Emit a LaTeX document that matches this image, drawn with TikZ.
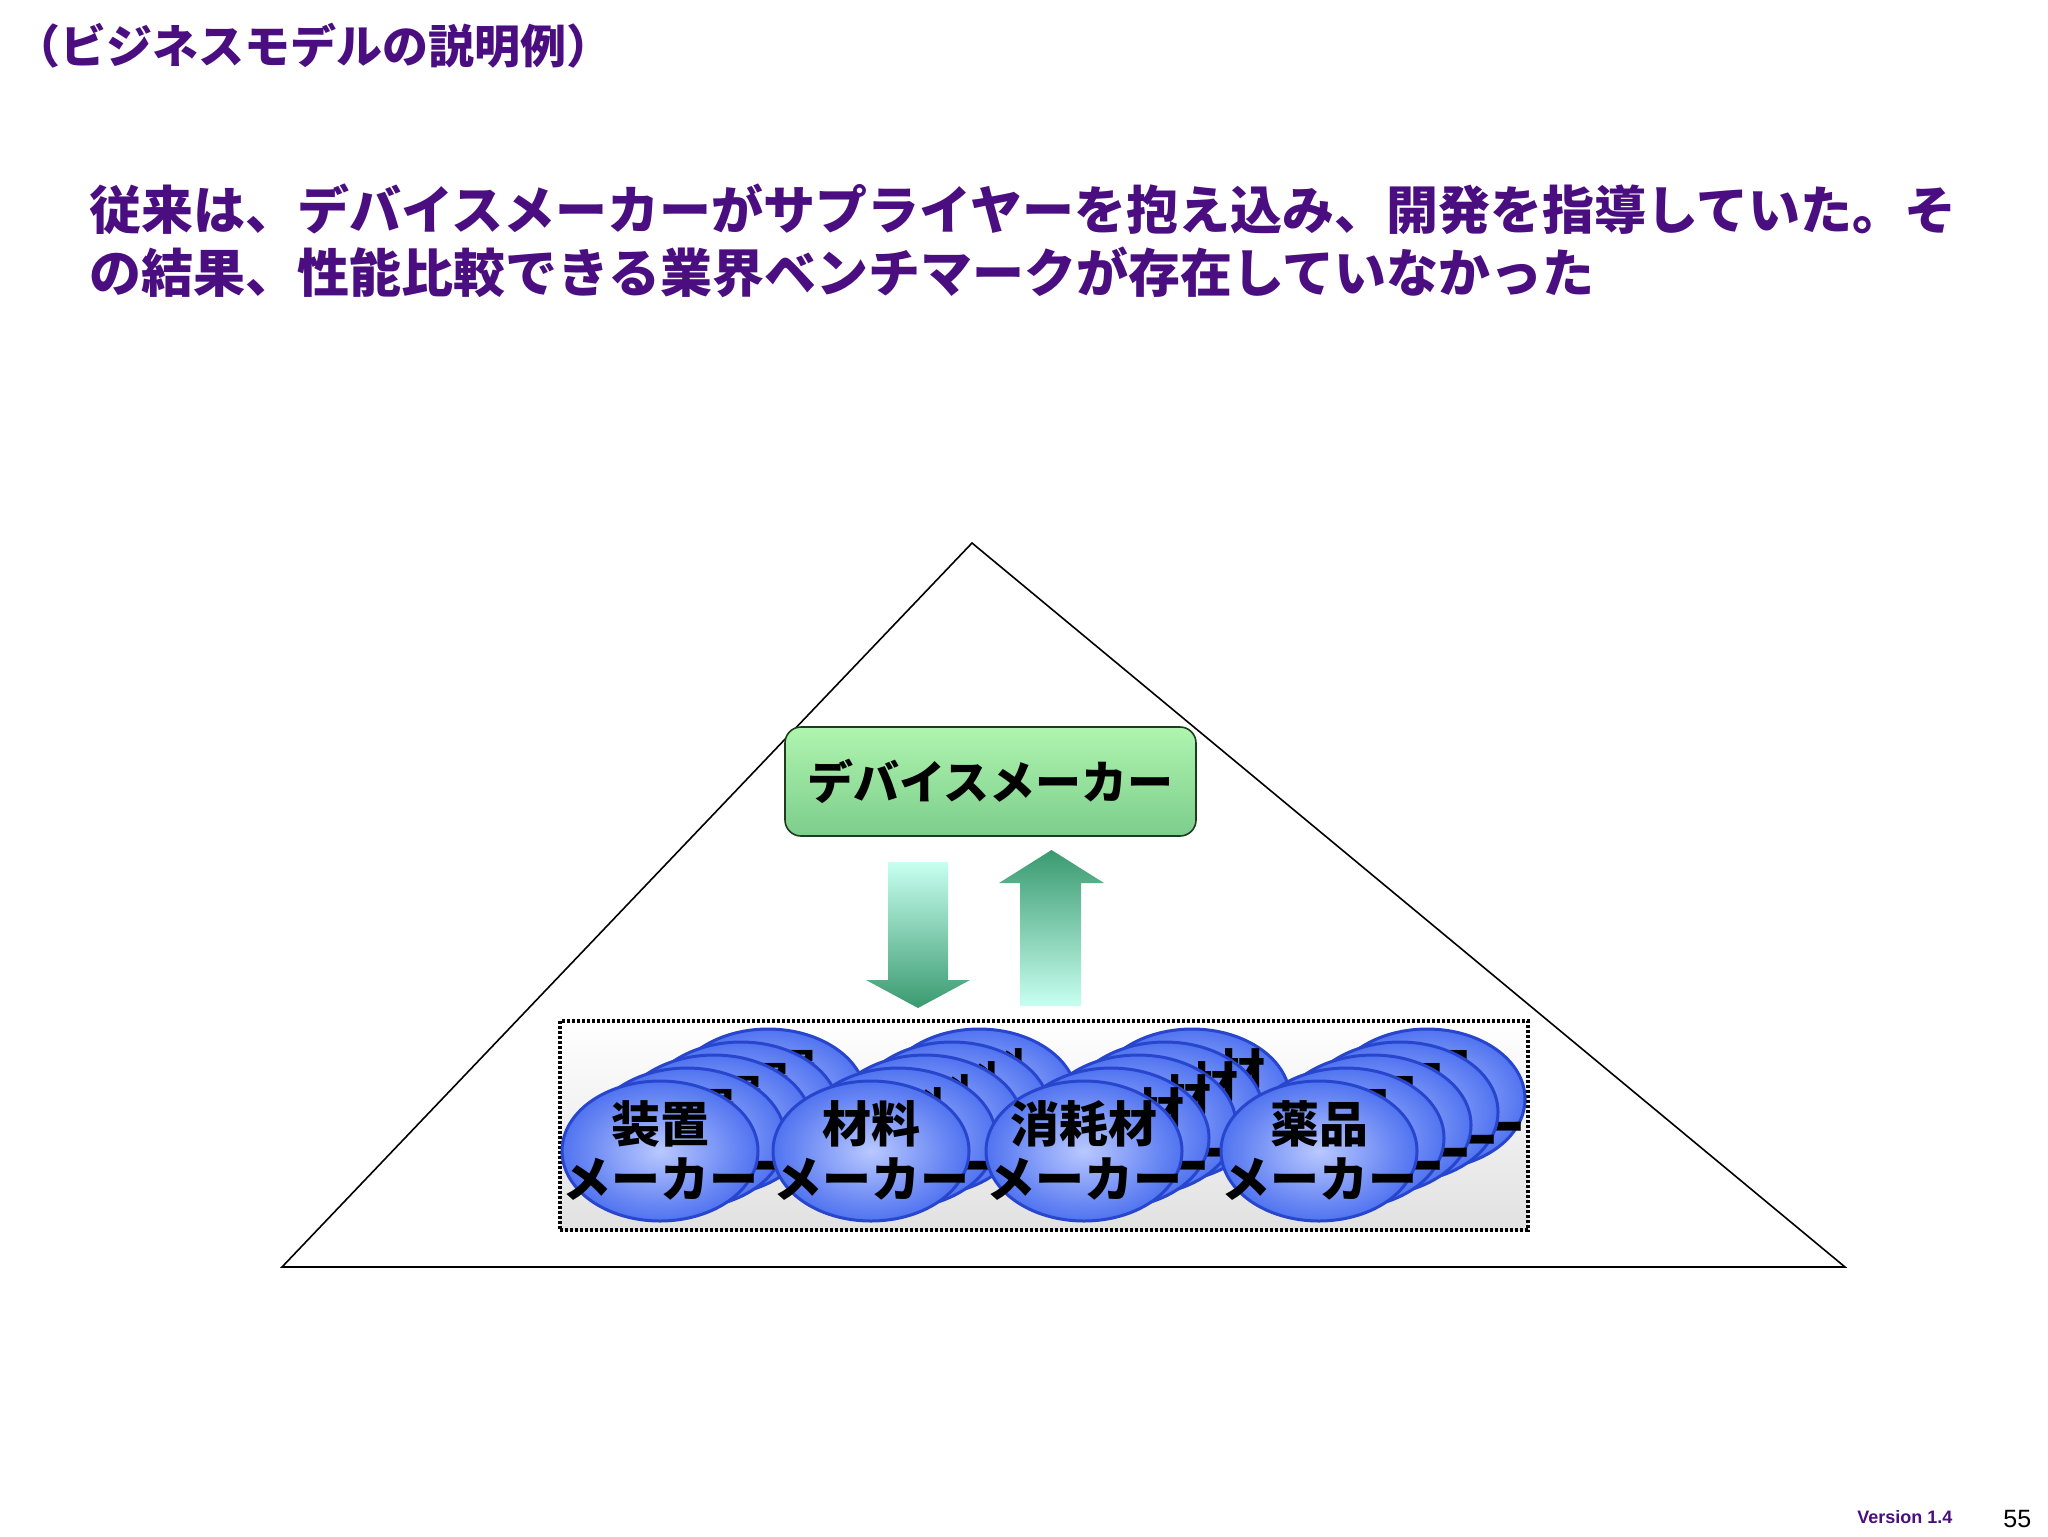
\documentclass[tikz,border=0pt]{standalone}
\usepackage{fontspec}
\newfontfamily\jp{Noto Sans CJK JP}
\setsansfont{Liberation Sans}
\usetikzlibrary{shapes.geometric}
\definecolor{ttl}{HTML}{4A0E80}
\definecolor{arrg}{HTML}{3A9A70}
\definecolor{arrl}{HTML}{C8FFF0}
\tikzset{
  x=0.5pt,y=-0.5pt,
  maker/.style={ellipse,minimum width=98pt,minimum height=70pt,inner sep=0pt,
    inner color={rgb,255:red,185;green,200;blue,255},outer color={rgb,255:red,80;green,115;blue,240},
    draw={rgb,255:red,40;green,70;blue,205},line width=1.5pt},
  makertxt/.style={font=\jp\bfseries\fontsize{24.5}{27.5}\selectfont,align=center,text=black,inner sep=0pt},
  big/.style={font=\jp\bfseries\fontsize{26}{31}\selectfont,text=ttl,anchor=west,inner sep=0pt}
}
\begin{document}
\begin{tikzpicture}
\useasboundingbox (0,0) rectangle (2048,1536);
\node[font=\jp\bfseries\fontsize{23}{27}\selectfont,text=ttl,anchor=west,inner sep=0pt] (title) at (14,46) {（ビジネスモデルの説明例）};
\node[big] (h1) at (89,209) {従来は、デバイスメーカーがサプライヤーを抱え込み、開発を指導していた。そ};
\node[big] (h2) at (89,272) {の結果、性能比較できる業界ベンチマークが存在していなかった};
% triangle
\coordinate (apex) at (972,543);
\coordinate (bl) at (282,1267);
\coordinate (br) at (1845,1267);
\draw[line width=0.8pt] (apex) -- (br) -- (bl) -- cycle;
% device maker
\node[draw={rgb,255:red,30;green,60;blue,30},line width=0.8pt,rounded corners=8pt,
  top color={rgb,255:red,175;green,245;blue,175},bottom color={rgb,255:red,125;green,205;blue,140},
  minimum width=205.5pt,minimum height=54.5pt,font=\jp\bfseries\fontsize{23}{27}\selectfont] (dev) at (990.5,781.5) {デバイスメーカー};
% arrows
\shade[top color=arrl,bottom color=arrg] (888,862) -- (948,862) -- (948,980) -- (970,980) -- (918,1008) -- (866,980) -- (888,980) -- cycle;
\shade[top color=arrg,bottom color=arrl] (1020,1006) -- (1081,1006) -- (1081,883) -- (1104,883) -- (1051.5,850) -- (999,883) -- (1020,883) -- cycle;
% dotted box
\node[draw,dash pattern=on 1.5pt off 1pt,line width=1.8pt,top color=white,bottom color={rgb,255:red,225;green,225;blue,225},
  minimum width=484pt,minimum height=104.5pt,inner sep=0pt] (grp) at (1044,1125.5) {};
% ellipse stacks
\foreach \cx/\txt [count=\g] in {660/装置,871/材料,1084/消耗材,1319/薬品}{
  \foreach \k in {4,3,2,1,0}{
    \node[maker] (m\g-\k) at ({\cx+27*\k},{1151-13*\k}) {};
    \node[makertxt] (t\g-\k) at (m\g-\k) {\txt\\メーカー};
  }
}
\node[font=\sffamily\bfseries\fontsize{9}{11}\selectfont,text=ttl,anchor=west,inner sep=0pt] (ver) at (1857,1517) {Version 1.4};
\node[font=\sffamily\fontsize{12.5}{15}\selectfont,anchor=west,inner sep=0pt] (pg) at (2003,1519) {55};
\end{tikzpicture}
\end{document}
